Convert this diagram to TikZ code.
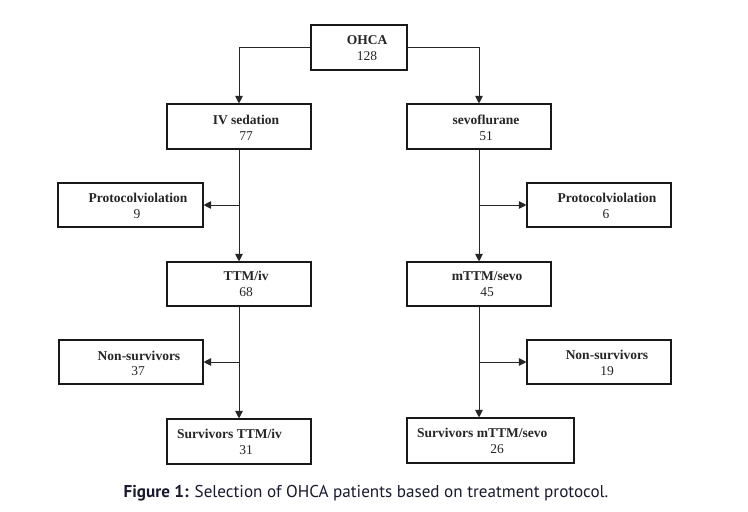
\documentclass[tikz,border=0pt]{standalone}
\usepackage{fontspec}
\setmainfont{Liberation Serif}
\newfontfamily\capfont{PT Sans}
\usetikzlibrary{arrows.meta}
\definecolor{capcol}{HTML}{1A1A2E}
\definecolor{txtcol}{HTML}{262626}
\begin{document}
\begin{tikzpicture}[x=1pt,y=-1pt,
  box/.style={draw=black!90,line width=1.1pt,inner sep=0pt,minimum height=45pt},
  ttl/.style={font=\fontsize{13.5}{16}\selectfont\bfseries,text=txtcol,inner sep=0pt},
  num/.style={font=\fontsize{13.5}{16}\selectfont,text=txtcol,inner sep=0pt},
  conn/.style={draw=black!85,line width=0.9pt,-{Triangle[length=7.5pt,width=7.5pt]}}]
\useasboundingbox (0,0) rectangle (748,512);
\fill[white] (0,0) rectangle (748,512);
% boxes
\node[box,minimum width=96pt] (ohca) at (359,47.5) {};
\node[box,minimum width=144pt] (iv) at (239,126.5) {};
\node[box,minimum width=144pt] (sevo) at (479,126.5) {};
\node[box,minimum width=145pt,minimum height=44pt] (pl) at (130.5,205) {};
\node[box,minimum width=144pt,minimum height=44pt] (pr) at (599,205) {};
\node[box,minimum width=144pt,minimum height=44pt] (ttm) at (239,284) {};
\node[box,minimum width=144pt,minimum height=44pt] (mttm) at (479,284) {};
\node[box,minimum width=144pt,minimum height=44pt] (nl) at (131,362) {};
\node[box,minimum width=144pt,minimum height=44pt] (nr) at (599,362) {};
\node[box,minimum width=144pt] (sl) at (239,441.5) {};
\node[box,minimum width=167pt] (sr) at (490.5,440.5) {};
% texts
\node[ttl] (t1) at (367,40) {OHCA};
\node[num] (n1) at (367,56) {128};
\node[ttl] (t2) at (246,119.5) {IV sedation};
\node[num] (n2) at (246,136) {77};
\node[ttl] (t3) at (486,119.5) {sevoflurane};
\node[num] (n3) at (486,136) {51};
\node[ttl] (t4) at (138,198) {Protocolviolation};
\node[num] (n4) at (137,214) {9};
\node[ttl] (t5) at (607,198) {Protocolviolation};
\node[num] (n5) at (606,214) {6};
\node[ttl] (t6) at (246,276) {TTM/iv};
\node[num] (n6) at (246,292) {68};
\node[ttl] (t7) at (487,276) {mTTM/sevo};
\node[num] (n7) at (487,292) {45};
\node[ttl] (t8) at (139,355.5) {Non-survivors};
\node[num] (n8) at (138,371.5) {37};
\node[ttl] (t9) at (607,355) {Non-survivors};
\node[num] (n9) at (607,371.5) {19};
\node[ttl,anchor=west] (t10) at (177,434) {Survivors TTM/iv};
\node[num] (n10) at (246,450) {31};
\node[ttl,anchor=west] (t11) at (417,433) {Survivors mTTM/sevo};
\node[num] (n11) at (497,449) {26};
% connectors
\draw[conn] (ohca.west) -| (iv.north);
\draw[conn] (ohca.east) -| (sevo.north);
\draw[conn] (iv.south) -- (ttm.north);
\draw[conn] (iv.south |- pl.east) -- (pl.east);
\draw[conn] (ttm.south) -- (sl.north);
\draw[conn] (ttm.south |- nl.east) -- (nl.east);
\draw[conn] (sevo.south) -- (mttm.north);
\draw[conn] (sevo.south |- pr.west) -- (pr.west);
\draw[conn] (mttm.south) -- (mttm.south |- sr.north);
\draw[conn] (mttm.south |- nr.west) -- (nr.west);
% caption
\node[font=\capfont\fontsize{17.1}{20}\selectfont,text=capcol,inner sep=0pt] (cap) at (366,493) {\textbf{Figure 1:} Selection of OHCA patients based on treatment protocol.};
\end{tikzpicture}
\end{document}
